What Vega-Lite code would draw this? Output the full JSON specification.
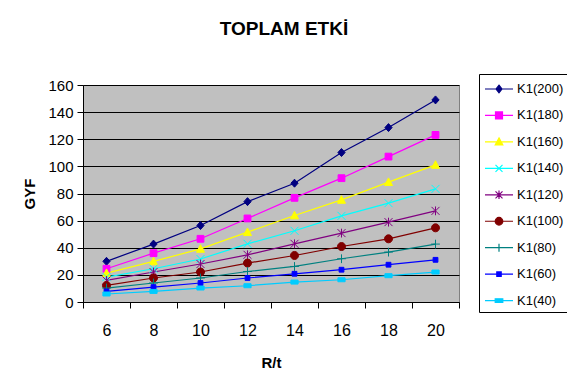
{
  "$schema": "https://vega.github.io/schema/vega-lite/v6.json",
  "autosize": "none",
  "width": 376,
  "height": 217,
  "padding": {"left": 83, "top": 85, "right": 108, "bottom": 88},
  "background": "white",
  "title": {
    "text": "TOPLAM ETKİ",
    "font": "Liberation Sans",
    "fontSize": 19,
    "fontWeight": "bold",
    "letterSpacing": -1.6,
    "color": "black",
    "dx": 13,
    "offset": 35
  },
  "datasets": {
    "seriler": [
      {"seri": "K1(200)", "R": 6, "GYF": 30}, {"seri": "K1(200)", "R": 8, "GYF": 42.7}, {"seri": "K1(200)", "R": 10, "GYF": 56.4}, {"seri": "K1(200)", "R": 12, "GYF": 74},
      {"seri": "K1(200)", "R": 14, "GYF": 87.6}, {"seri": "K1(200)", "R": 16, "GYF": 110.2}, {"seri": "K1(200)", "R": 18, "GYF": 128.6}, {"seri": "K1(200)", "R": 20, "GYF": 149},
      {"seri": "K1(180)", "R": 6, "GYF": 24.5}, {"seri": "K1(180)", "R": 8, "GYF": 36}, {"seri": "K1(180)", "R": 10, "GYF": 46.6}, {"seri": "K1(180)", "R": 12, "GYF": 61.6},
      {"seri": "K1(180)", "R": 14, "GYF": 76.8}, {"seri": "K1(180)", "R": 16, "GYF": 91.3}, {"seri": "K1(180)", "R": 18, "GYF": 107.2}, {"seri": "K1(180)", "R": 20, "GYF": 123.2},
      {"seri": "K1(160)", "R": 6, "GYF": 21.3}, {"seri": "K1(160)", "R": 8, "GYF": 29.9}, {"seri": "K1(160)", "R": 10, "GYF": 39.2}, {"seri": "K1(160)", "R": 12, "GYF": 51.5},
      {"seri": "K1(160)", "R": 14, "GYF": 63.8}, {"seri": "K1(160)", "R": 16, "GYF": 75.3}, {"seri": "K1(160)", "R": 18, "GYF": 88.4}, {"seri": "K1(160)", "R": 20, "GYF": 101.1},
      {"seri": "K1(140)", "R": 6, "GYF": 18.4}, {"seri": "K1(140)", "R": 8, "GYF": 24.5}, {"seri": "K1(140)", "R": 10, "GYF": 31.7}, {"seri": "K1(140)", "R": 12, "GYF": 42.9},
      {"seri": "K1(140)", "R": 14, "GYF": 52.5}, {"seri": "K1(140)", "R": 16, "GYF": 63.5}, {"seri": "K1(140)", "R": 18, "GYF": 72.9}, {"seri": "K1(140)", "R": 20, "GYF": 83.4},
      {"seri": "K1(120)", "R": 6, "GYF": 15.9}, {"seri": "K1(120)", "R": 8, "GYF": 22.1}, {"seri": "K1(120)", "R": 10, "GYF": 28}, {"seri": "K1(120)", "R": 12, "GYF": 34.8},
      {"seri": "K1(120)", "R": 14, "GYF": 42.9}, {"seri": "K1(120)", "R": 16, "GYF": 50.8}, {"seri": "K1(120)", "R": 18, "GYF": 58.9}, {"seri": "K1(120)", "R": 20, "GYF": 67.2},
      {"seri": "K1(100)", "R": 6, "GYF": 12.2}, {"seri": "K1(100)", "R": 8, "GYF": 17.7}, {"seri": "K1(100)", "R": 10, "GYF": 22.1}, {"seri": "K1(100)", "R": 12, "GYF": 28.7},
      {"seri": "K1(100)", "R": 14, "GYF": 34.3}, {"seri": "K1(100)", "R": 16, "GYF": 40.9}, {"seri": "K1(100)", "R": 18, "GYF": 46.6}, {"seri": "K1(100)", "R": 20, "GYF": 54.7},
      {"seri": "K1(80)", "R": 6, "GYF": 10.3}, {"seri": "K1(80)", "R": 8, "GYF": 14}, {"seri": "K1(80)", "R": 10, "GYF": 17.7}, {"seri": "K1(80)", "R": 12, "GYF": 22.5},
      {"seri": "K1(80)", "R": 14, "GYF": 26.2}, {"seri": "K1(80)", "R": 16, "GYF": 31.9}, {"seri": "K1(80)", "R": 18, "GYF": 36.8}, {"seri": "K1(80)", "R": 20, "GYF": 42.7},
      {"seri": "K1(60)", "R": 6, "GYF": 7.8}, {"seri": "K1(60)", "R": 8, "GYF": 11}, {"seri": "K1(60)", "R": 10, "GYF": 14}, {"seri": "K1(60)", "R": 12, "GYF": 17.7},
      {"seri": "K1(60)", "R": 14, "GYF": 20.8}, {"seri": "K1(60)", "R": 16, "GYF": 23.8}, {"seri": "K1(60)", "R": 18, "GYF": 27.5}, {"seri": "K1(60)", "R": 20, "GYF": 31.1},
      {"seri": "K1(40)", "R": 6, "GYF": 5.9}, {"seri": "K1(40)", "R": 8, "GYF": 7.8}, {"seri": "K1(40)", "R": 10, "GYF": 10.3}, {"seri": "K1(40)", "R": 12, "GYF": 12},
      {"seri": "K1(40)", "R": 14, "GYF": 14.7}, {"seri": "K1(40)", "R": 16, "GYF": 16.4}, {"seri": "K1(40)", "R": 18, "GYF": 19.4}, {"seri": "K1(40)", "R": 20, "GYF": 22.1}
    ]
  },
  "data": {"name": "seriler"},
  "layer": [
    {
      "mark": {"type": "line", "strokeWidth": 1.2},
      "encoding": {
        "x": {"field": "R", "type": "ordinal"},
        "y": {"field": "GYF", "type": "quantitative"},
        "stroke": {
          "field": "seri", "type": "nominal", "legend": null,
          "scale": {
            "domain": ["K1(200)", "K1(180)", "K1(160)", "K1(140)", "K1(120)", "K1(100)", "K1(80)", "K1(60)", "K1(40)"],
            "range": ["#000080", "#FF00FF", "#FFFF00", "#00FFFF", "#800080", "#800000", "#008080", "#0000FF", "#00CCFF"]
          }
        }
      }
    },
    {
      "mark": {"type": "point", "filled": true, "size": 64, "strokeWidth": 1, "opacity": 1},
      "encoding": {
        "x": {"field": "R", "type": "ordinal"},
        "y": {"field": "GYF", "type": "quantitative"},
        "fill": {
          "field": "seri", "type": "nominal", "legend": null,
          "scale": {
            "domain": ["K1(200)", "K1(180)", "K1(160)", "K1(140)", "K1(120)", "K1(100)", "K1(80)", "K1(60)", "K1(40)"],
            "range": ["#000080", "#FF00FF", "#FFFF00", "#00FFFF", "#800080", "#800000", "#008080", "#0000FF", "#00CCFF"]
          }
        },
        "stroke": {
          "field": "seri", "type": "nominal", "legend": null,
          "scale": {
            "domain": ["K1(200)", "K1(180)", "K1(160)", "K1(140)", "K1(120)", "K1(100)", "K1(80)", "K1(60)", "K1(40)"],
            "range": ["#000080", "#FF00FF", "#FFFF00", "#00FFFF", "#800080", "#800000", "#008080", "#0000FF", "#00CCFF"]
          }
        },
        "shape": {
          "field": "seri", "type": "nominal", "legend": null,
          "scale": {
            "domain": ["K1(200)", "K1(180)", "K1(160)", "K1(140)", "K1(120)", "K1(100)", "K1(80)", "K1(60)", "K1(40)"],
            "range": [
              "M0,-1L0.9,0L0,1L-0.9,0Z",
              "M-0.85,-0.85L0.85,-0.85L0.85,0.85L-0.85,0.85Z",
              "M0,-1.05L1,0.85L-1,0.85Z",
              "M-1,-1L1,1M-1,1L1,-1",
              "M-1,-1L1,1M-1,1L1,-1M0,-1.1L0,1.1",
              "M1,0A1,1,0,1,1,-1,0A1,1,0,1,1,1,0Z",
              "M-1.1,0L1.1,0M0,-1.1L0,1.1",
              "M-0.6,-0.6L0.6,-0.6L0.6,0.6L-0.6,0.6Z",
              "M-0.9,-0.5L0.9,-0.5L0.9,0.5L-0.9,0.5Z"
            ]
          }
        }
      }
    },
    {
      "transform": [{"filter": "false"}],
      "mark": {"type": "point", "filled": true, "opacity": 1, "strokeWidth": 1.2},
      "encoding": {
        "fill": {
          "field": "seri", "type": "nominal",
          "scale": {
            "domain": ["K1(200)", "K1(180)", "K1(160)", "K1(140)", "K1(120)", "K1(100)", "K1(80)", "K1(60)", "K1(40)"],
            "range": ["#000080", "#FF00FF", "#FFFF00", "#00FFFF", "#800080", "#800000", "#008080", "#0000FF", "#00CCFF"]
          }
        },
        "stroke": {
          "field": "seri", "type": "nominal",
          "scale": {
            "domain": ["K1(200)", "K1(180)", "K1(160)", "K1(140)", "K1(120)", "K1(100)", "K1(80)", "K1(60)", "K1(40)"],
            "range": ["#000080", "#FF00FF", "#FFFF00", "#00FFFF", "#800080", "#800000", "#008080", "#0000FF", "#00CCFF"]
          }
        },
        "shape": {
          "field": "seri", "type": "nominal",
          "scale": {
            "domain": ["K1(200)", "K1(180)", "K1(160)", "K1(140)", "K1(120)", "K1(100)", "K1(80)", "K1(60)", "K1(40)"],
            "range": [
              "M-1.4,0L1.4,0M0,-0.38L0.3,0L0,0.38L-0.3,0Z",
              "M-1.4,0L1.4,0M-0.35,-0.35L0.35,-0.35L0.35,0.35L-0.35,0.35Z",
              "M-1.4,0L1.4,0M0,-0.4L0.38,0.3L-0.38,0.3Z",
              "M-1.4,0L1.4,0M-0.35,-0.35L0.35,0.35M-0.35,0.35L0.35,-0.35",
              "M-1.4,0L1.4,0M-0.35,-0.35L0.35,0.35M-0.35,0.35L0.35,-0.35M0,-0.42L0,0.42",
              "M-1.4,0L1.4,0M0.38,0A0.38,0.38,0,1,1,-0.38,0A0.38,0.38,0,1,1,0.38,0Z",
              "M-1.4,0L1.4,0M0,-0.4L0,0.4",
              "M-1.4,0L1.4,0M-0.22,-0.22L0.22,-0.22L0.22,0.22L-0.22,0.22Z",
              "M-1.4,0L1.4,0M-0.38,-0.18L0.38,-0.18L0.38,0.18L-0.38,0.18Z"
            ]
          },
          "legend": {
            "title": null,
            "orient": "none",
            "legendX": 396,
            "legendY": -11,
            "padding": 4,
            "rowPadding": 8.45,
            "symbolSize": 400,
            "symbolOffset": 5,
            "symbolStrokeWidth": 1.2,
            "labelOffset": 7,
            "labelFont": "Liberation Sans",
            "labelFontSize": 13,
            "labelColor": "black",
            "strokeColor": "black",
            "fillColor": "white",
            "cornerRadius": 0
          }
        }
      }
    }
  ],
  "resolve": {"scale": {"shape": "independent", "fill": "independent", "stroke": "independent"}},
  "encoding": {
    "x": {
      "field": "R", "type": "ordinal",
      "scale": {"type": "band", "paddingInner": 0, "paddingOuter": 0},
      "axis": {
        "title": "R/t",
        "tickBand": "extent",
        "labelAngle": 0,
        "labelFontSize": 16,
        "labelPadding": 14,
        "titleFontSize": 15,
        "titlePadding": 17,
        "grid": false
      }
    },
    "y": {
      "field": "GYF", "type": "quantitative",
      "scale": {"domain": [0, 160], "nice": false, "zero": true},
      "axis": {
        "title": "GYF",
        "values": [0, 20, 40, 60, 80, 100, 120, 140, 160],
        "labelFontSize": 15,
        "labelPadding": 4,
        "titleFontSize": 15,
        "titlePadding": 10,
        "grid": true,
        "gridColor": "black",
        "gridWidth": 1,
        "gridOpacity": 1
      }
    }
  },
  "config": {
    "font": "Liberation Sans",
    "view": {"fill": "#C0C0C0", "stroke": "#808080", "strokeWidth": 1},
    "axis": {
      "domainColor": "black",
      "tickColor": "black",
      "tickSize": 6,
      "labelColor": "black",
      "titleColor": "black",
      "titleFont": "Liberation Sans",
      "labelFont": "Liberation Sans",
      "titleFontWeight": "bold"
    }
  }
}
